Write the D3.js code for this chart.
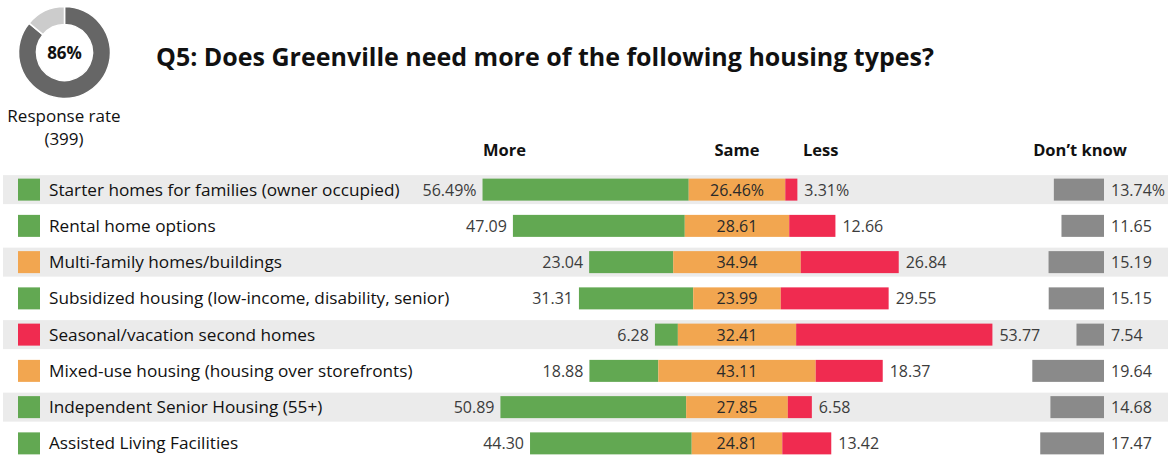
<!DOCTYPE html>
<html>
<head>
<meta charset="utf-8">
<script src="https://cdn.jsdelivr.net/npm/d3@7"></script>
<style>
  html, body { margin: 0; padding: 0; background: #fff; }
  svg { display: block; font-family: "Open Sans", "Noto Sans", sans-serif; }
</style>
</head>
<body>
<svg id="chart" width="1176" height="455"></svg>
<script>
// Survey question and response-rate summary
const title = "Q5: Does Greenville need more of the following housing types?";
const responseRate = 86;
const respondents = 399;

// Housing types, in display order
const categories = [
  "Starter homes for families (owner occupied)",
  "Rental home options",
  "Multi-family homes/buildings",
  "Subsidized housing (low-income, disability, senior)",
  "Seasonal/vacation second homes",
  "Mixed-use housing (housing over storefronts)",
  "Independent Senior Housing (55+)",
  "Assisted Living Facilities"
];

// Percent of respondents per answer
const more     = [56.49, 47.09, 23.04, 31.31, 6.28, 18.88, 50.89, 44.30];
const same     = [26.46, 28.61, 34.94, 23.99, 32.41, 43.11, 27.85, 24.81];
const less     = [3.31, 12.66, 26.84, 29.55, 53.77, 18.37, 6.58, 13.42];
const dontKnow = [13.74, 11.65, 15.19, 15.15, 7.54, 19.64, 14.68, 17.47];

const answerLabels = ["More", "Same", "Less", "Don\u2019t know"];

const colors = { more: "#62a852", same: "#f2a650", less: "#f02b50", dk: "#8a8a8a", band: "#ebebeb" };

const rows = categories.map((c, i) => ({
  name: c, more: more[i], same: same[i], less: less[i], dk: dontKnow[i], first: i === 0
}));

const svg = d3.select("#chart");

// ---- response-rate donut ----
const donut = svg.append("g").attr("transform", "translate(64.5,52.5)");
const pie = d3.pie().sort(null)([responseRate, 100 - responseRate]);
const arc = d3.arc().innerRadius(28).outerRadius(46);
donut.selectAll("path").data(pie).join("path")
  .attr("d", arc)
  .attr("fill", (d, i) => i === 0 ? "#666666" : "#cccccc")
  .attr("stroke", "#fff").attr("stroke-width", 1.5);
donut.append("text").attr("text-anchor", "middle").attr("y", 6.5)
  .attr("font-size", 17).attr("font-weight", 700).attr("fill", "#111")
  .text(responseRate + "%");
svg.append("text").attr("x", 64).attr("y", 122).attr("text-anchor", "middle")
  .attr("font-size", 17).attr("fill", "#111").text("Response rate");
svg.append("text").attr("x", 64).attr("y", 145).attr("text-anchor", "middle")
  .attr("font-size", 17).attr("fill", "#111").text("(" + respondents + ")");

// ---- title ----
svg.append("text").attr("x", 156).attr("y", 66)
  .attr("font-size", 25).attr("font-weight", 700).attr("fill", "#111")
  .text(title);

// ---- scales ----
const centre = 737;           // middle of the "Same" segment
const dkRight = 1104;         // right edge of "Don't know" bars
const w = d3.scaleLinear().domain([0, 100]).range([0, 365]);
const y = d3.scaleBand().domain(categories).range([171.5, 461.5]).paddingInner(0);
const bandH = 29, barH = 22;

// ---- column headers ----
const headers = [
  { t: answerLabels[0], x: 483, a: "start" },
  { t: answerLabels[1], x: 737, a: "middle" },
  { t: answerLabels[2], x: 803, a: "start" },
  { t: answerLabels[3], x: 1080, a: "middle" }
];
svg.selectAll("text.hdr").data(headers).join("text").attr("class", "hdr")
  .attr("x", d => d.x).attr("y", 156).attr("text-anchor", d => d.a)
  .attr("font-size", 16.5).attr("font-weight", 700).attr("fill", "#111")
  .text(d => d.t);

// ---- rows ----
const g = svg.selectAll("g.row").data(rows).join("g").attr("class", "row")
  .attr("transform", d => `translate(0,${y(d.name) + y.bandwidth() / 2})`);

g.filter((d, i) => i % 2 === 0).append("rect")
  .attr("x", 3).attr("width", 1165).attr("y", -bandH / 2).attr("height", bandH)
  .attr("fill", colors.band);

// swatch coloured by the leading answer
g.append("rect").attr("x", 18).attr("width", 22).attr("y", -barH / 2).attr("height", barH)
  .attr("fill", d => {
    const m = Math.max(d.more, d.same, d.less);
    return m === d.more ? colors.more : m === d.same ? colors.same : colors.less;
  });
g.append("text").attr("x", 49).attr("y", 6).attr("font-size", 17.2).attr("fill", "#111")
  .text(d => d.name);

const sameL = d => centre - w(d.same) / 2;

g.append("rect").attr("y", -barH / 2).attr("height", barH).attr("fill", colors.more)
  .attr("x", d => sameL(d) - w(d.more)).attr("width", d => w(d.more));
g.append("rect").attr("y", -barH / 2).attr("height", barH).attr("fill", colors.same)
  .attr("x", d => sameL(d)).attr("width", d => w(d.same));
g.append("rect").attr("y", -barH / 2).attr("height", barH).attr("fill", colors.less)
  .attr("x", d => sameL(d) + w(d.same)).attr("width", d => w(d.less));
g.append("rect").attr("y", -barH / 2).attr("height", barH).attr("fill", colors.dk)
  .attr("x", d => dkRight - w(d.dk)).attr("width", d => w(d.dk));

const fmt = (v, first) => v.toFixed(2) + (first ? "%" : "");
const valText = sel => sel.attr("y", 6).attr("font-size", 16).attr("fill", "#3c3c3c");

valText(g.append("text")).attr("text-anchor", "end")
  .attr("x", d => sameL(d) - w(d.more) - 6).text(d => fmt(d.more, d.first));
valText(g.append("text")).attr("text-anchor", "middle")
  .attr("x", centre).attr("fill", "#2a2a2a").text(d => fmt(d.same, d.first));
valText(g.append("text")).attr("text-anchor", "start")
  .attr("x", d => sameL(d) + w(d.same) + w(d.less) + 7).text(d => fmt(d.less, d.first));
valText(g.append("text")).attr("text-anchor", "start")
  .attr("x", dkRight + 7).text(d => fmt(d.dk, d.first));
</script>
</body>
</html>
